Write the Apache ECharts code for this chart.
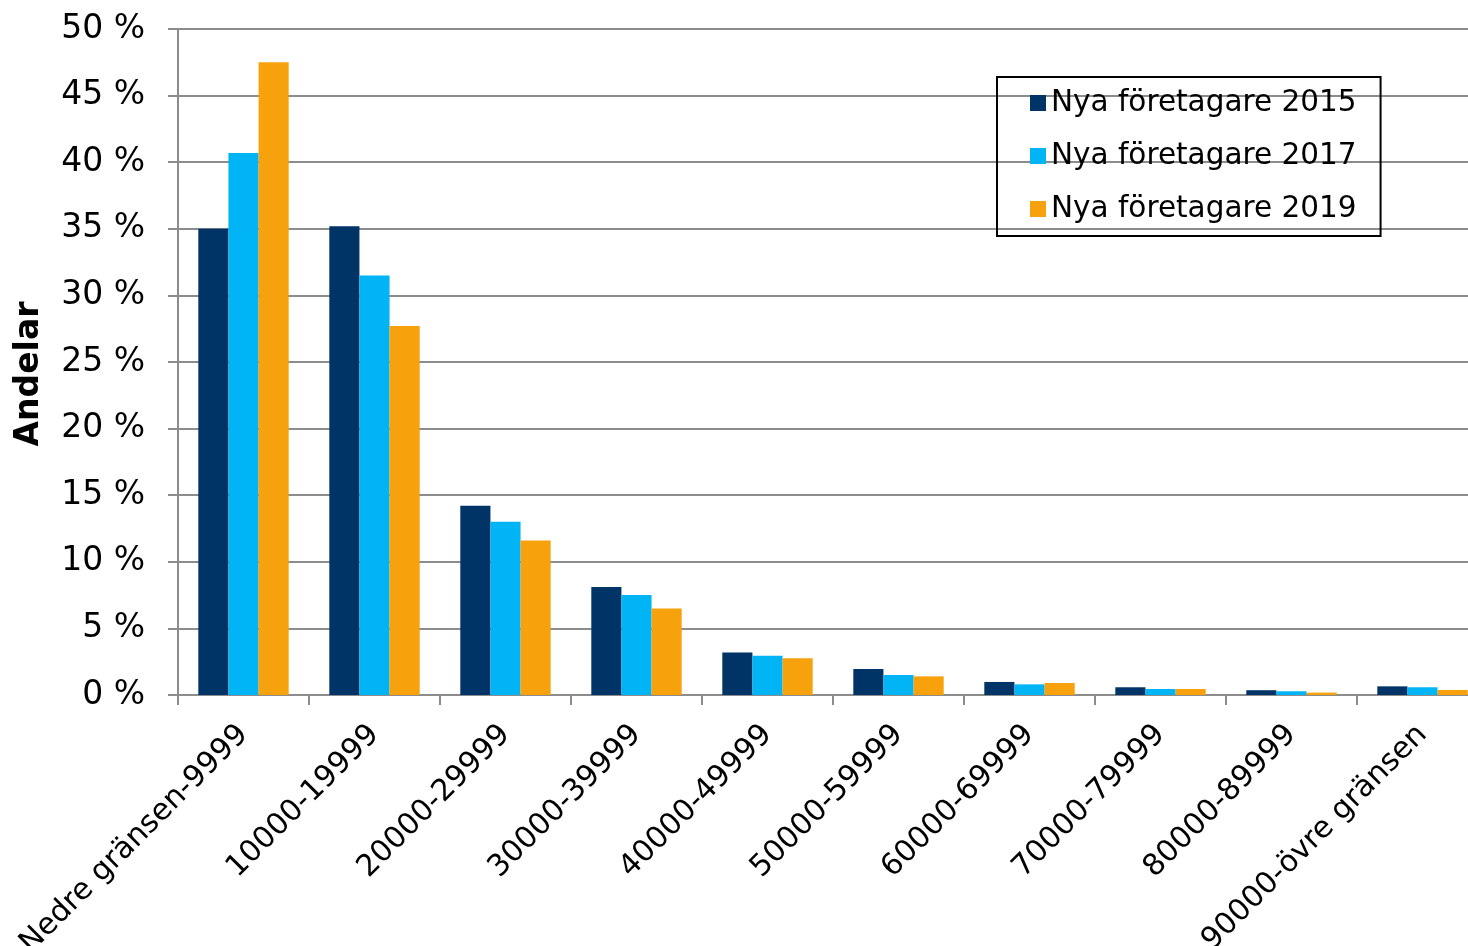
<!DOCTYPE html>
<html>
<head>
<meta charset="utf-8">
<script src="https://cdn.jsdelivr.net/npm/echarts@6/dist/echarts.min.js"></script>
<style>
html,body{margin:0;padding:0;background:#fff;}
#chart{width:1468px;height:946px;}
</style>
</head>
<body>
<div id="chart"></div>
<script>
const categories = ['Nedre gränsen-9999','10000-19999','20000-29999','30000-39999','40000-49999','50000-59999','60000-69999','70000-79999','80000-89999','90000-övre gränsen'];
const seriesNames = ['Nya företagare 2015','Nya företagare 2017','Nya företagare 2019'];
const values2015 = [35.0, 35.2, 14.2, 8.1, 3.2, 1.95, 0.98, 0.58, 0.36, 0.65];
const values2017 = [40.7, 31.5, 13.0, 7.5, 2.95, 1.5, 0.8, 0.45, 0.28, 0.58];
const values2019 = [47.5, 27.7, 11.6, 6.5, 2.75, 1.4, 0.9, 0.45, 0.18, 0.38];
const colors = ['#003366', '#00b4f5', '#f7a10c'];

const chart = echarts.init(document.getElementById('chart'));
const font = 'DejaVu Sans, Verdana, sans-serif';
const mk = (name, data, i) => ({
  name, type: 'bar', data,
  itemStyle: { color: colors[i] },
  barGap: '0%', barCategoryGap: '31%'
});
chart.setOption({
  animation: false,
  textStyle: { fontFamily: font },
  grid: { left: 178, top: 29, bottom: 251, right: -20, containLabel: false, outerBoundsMode: 'none' },
  legend: {
    orient: 'vertical',
    left: 997, top: 77,
    padding: [11, 24, 12, 33],
    borderColor: '#000', borderWidth: 2,
    itemWidth: 16, itemHeight: 16, itemGap: 23,
    icon: 'rect',
    textStyle: { fontSize: 29.5, fontFamily: font, color: '#000', lineHeight: 30 },
    data: seriesNames
  },
  xAxis: {
    type: 'category', data: categories,
    axisLine: { lineStyle: { color: '#8c8c8c', width: 2 } },
    axisTick: { show: true, length: 10, lineStyle: { color: '#8c8c8c', width: 2 } },
    axisLabel: { rotate: 45, fontSize: 30, fontFamily: font, color: '#000', margin: 35, interval: 0 }
  },
  yAxis: {
    type: 'value', min: 0, max: 50, interval: 5,
    name: 'Andelar', nameLocation: 'middle', nameGap: 132, nameRotate: 90,
    nameTextStyle: { fontSize: 33, fontWeight: 'bold', fontFamily: font, color: '#000', padding: [0, 24, 0, 0] },
    axisLine: { show: true, lineStyle: { color: '#8c8c8c', width: 2 } },
    axisTick: { show: true, length: 10, lineStyle: { color: '#8c8c8c', width: 2 } },
    splitLine: { lineStyle: { color: '#8c8c8c', width: 2 } },
    axisLabel: { formatter: '{value} %', fontSize: 33, fontFamily: font, color: '#000', margin: 33 }
  },
  series: [mk(seriesNames[0], values2015, 0), mk(seriesNames[1], values2017, 1), mk(seriesNames[2], values2019, 2)]
});
</script>
</body>
</html>
